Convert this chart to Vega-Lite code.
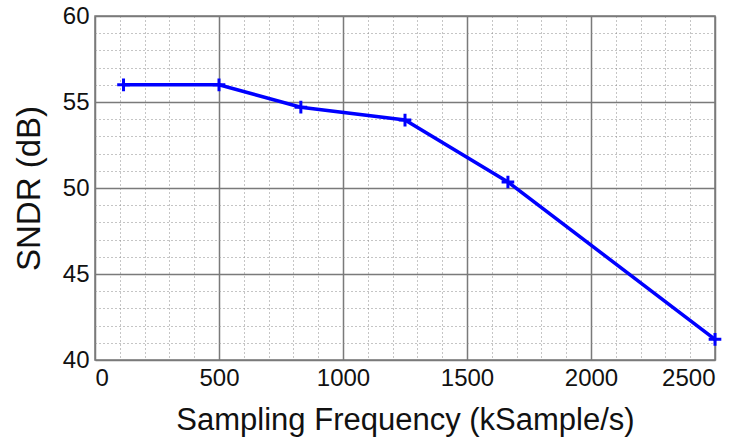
{
  "$schema": "https://vega.github.io/schema/vega-lite/v6.json",
  "width": 620,
  "height": 344,
  "autosize": {"type": "none"},
  "padding": {"left": 95, "top": 16, "right": 30, "bottom": 84},
  "background": "white",
  "config": {
    "view": {"stroke": "#7a7a7a", "strokeWidth": 1.5},
    "font": "Liberation Sans"
  },
  "data": {
    "values": [
      {"fs": 115, "sndr": 56.0},
      {"fs": 500, "sndr": 56.0},
      {"fs": 830, "sndr": 54.7},
      {"fs": 1250, "sndr": 53.95},
      {"fs": 1665, "sndr": 50.35},
      {"fs": 2500, "sndr": 41.2}
    ]
  },
  "layer": [
    {
      "mark": {"type": "line", "color": "#0000ff", "strokeWidth": 3.5},
      "encoding": {
        "x": {
          "field": "fs", "type": "quantitative",
          "scale": {"domain": [0, 2500], "nice": false, "zero": false},
          "axis": {
            "orient": "bottom",
            "values": [100,200,300,400,600,700,800,900,1100,1200,1300,1400,1600,1700,1800,1900,2100,2200,2300,2400],
            "grid": true, "gridColor": "#8a8a8a", "gridDash": [1, 3], "gridWidth": 1,
            "labels": false, "ticks": false, "domain": false, "title": null
          }
        },
        "y": {
          "field": "sndr", "type": "quantitative",
          "scale": {"domain": [40, 60], "nice": false, "zero": false},
          "axis": {
            "orient": "left",
            "values": [41,42,43,44,46,47,48,49,51,52,53,54,56,57,58,59],
            "grid": true, "gridColor": "#8a8a8a", "gridDash": [1, 3], "gridWidth": 1,
            "labels": false, "ticks": false, "domain": false, "title": null
          }
        }
      }
    },
    {
      "mark": {
        "type": "point",
        "shape": "M-1,0L1,0M0,-1L0,1",
        "filled": false,
        "color": "#0000ff",
        "strokeWidth": 3,
        "size": 160,
        "opacity": 1
      },
      "encoding": {
        "x": {
          "field": "fs", "type": "quantitative",
          "axis": {
            "orient": "bottom",
            "values": [0, 500, 1000, 1500, 2000, 2500],
            "format": "d",
            "grid": true, "gridColor": "#7a7a7a", "gridWidth": 1.5,
            "ticks": false, "domain": false,
            "labelFontSize": 24, "labelColor": "#111111", "labelPadding": 6,
            "labelFont": "Liberation Sans",
            "title": "Sampling Frequency (kSample/s)",
            "titleFontSize": 31, "titleFontWeight": "normal", "titleColor": "#111111",
            "titleFont": "Liberation Sans", "titlePadding": 15
          }
        },
        "y": {
          "field": "sndr", "type": "quantitative",
          "axis": {
            "orient": "left",
            "values": [40, 45, 50, 55, 60],
            "format": "d",
            "grid": true, "gridColor": "#7a7a7a", "gridWidth": 1.5,
            "ticks": false, "domain": false,
            "labelFontSize": 24, "labelColor": "#111111", "labelPadding": 6,
            "labelFont": "Liberation Sans",
            "title": "SNDR (dB)",
            "titleFontSize": 33, "titleFontWeight": "normal", "titleColor": "#111111",
            "titleFont": "Liberation Sans", "titlePadding": 16
          }
        }
      }
    }
  ],
  "resolve": {"axis": {"x": "independent", "y": "independent"}}
}
